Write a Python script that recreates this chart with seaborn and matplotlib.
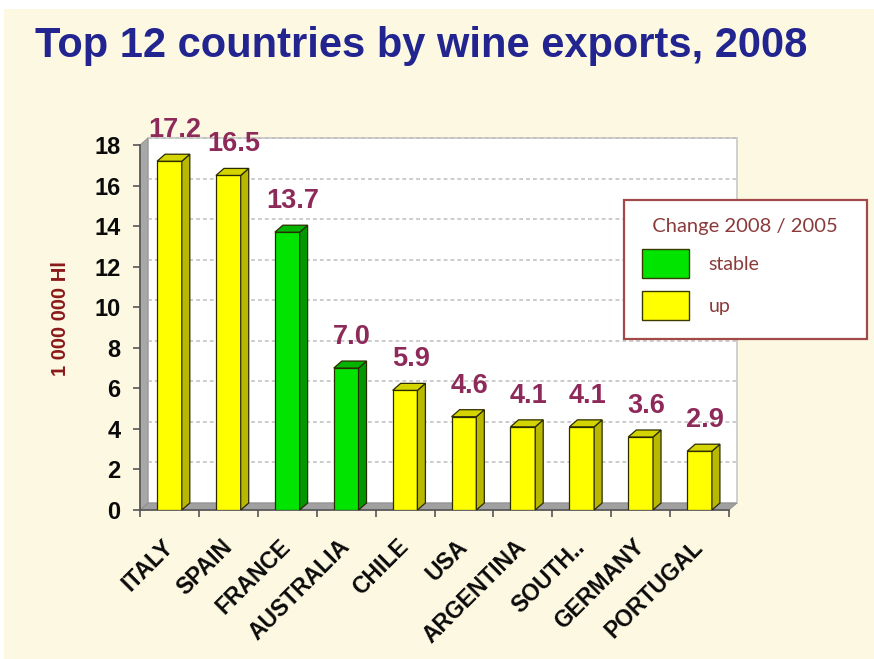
import matplotlib
matplotlib.use("Agg")
import matplotlib.pyplot as plt
import seaborn as sns
import pandas as pd
from matplotlib.patches import Polygon, Rectangle, Patch

# ---- data ----
countries = ["ITALY", "SPAIN", "FRANCE", "AUSTRALIA", "CHILE", "USA",
             "ARGENTINA", "SOUTH..", "GERMANY", "PORTUGAL"]
exports = [17.2, 16.5, 13.7, 7.0, 5.9, 4.6, 4.1, 4.1, 3.6, 2.9]
change = ["up", "up", "stable", "stable", "up", "up", "up", "up", "up", "up"]
y_ticks = [0, 2, 4, 6, 8, 10, 12, 14, 16, 18]
legend_order = ["stable", "up"]

title = "Top 12 countries by wine exports, 2008"
ylabel = "1 000 000 Hl"
legend_title = "Change 2008 / 2005"

front = {"up": "#FFFF00", "stable": "#00E400"}
side = {"up": "#B8B800", "stable": "#009800"}
top_c = {"up": "#D4D400", "stable": "#00B400"}

bg = "#FDF8E2"
label_col = "#8E2A5A"

df = pd.DataFrame({"country": countries, "value": exports, "change": change})

sns.set_theme(style="white")
plt.rcParams["font.family"] = ["Liberation Sans", "DejaVu Sans"]

W, H = 874, 659
fig = plt.figure(figsize=(W / 100, H / 100), dpi=100, facecolor=bg)
ax_l, ax_r, ax_b, ax_t = 140, 729, 510, 145
ax = fig.add_axes([ax_l / W, 1 - ax_b / H, (ax_r - ax_l) / W, (ax_b - ax_t) / H])
ax.set_facecolor("none")

# white strips at top/left edge of the picture
fig.patches.append(Rectangle((0, 1 - 9 / H), 1, 9 / H, transform=fig.transFigure,
                             facecolor="white", edgecolor="none", zorder=-5))
fig.patches.append(Rectangle((0, 0), 4 / W, 1, transform=fig.transFigure,
                             facecolor="white", edgecolor="none", zorder=-5))

sns.barplot(data=df, x="country", y="value", hue="change", palette=front,
            order=countries, hue_order=legend_order, dodge=False, width=0.42,
            saturation=1, edgecolor="#2B2B00", linewidth=0.9, legend=False, ax=ax,
            zorder=3)

ax.set_xlim(-0.5, len(countries) - 0.5)
ax.set_ylim(0, 18)

# 3D look: wall, floor, back plane offsets
px_x = (ax_r - ax_l) / len(countries)   # px per category
px_y = (ax_b - ax_t) / 18.0             # px per unit
ddx_px, ddy_px = 8, 7
dxa = ddx_px / (ax_r - ax_l)
dya = ddy_px / (ax_b - ax_t)

ax.add_patch(Rectangle((dxa, dya), 1, 1, transform=ax.transAxes, facecolor="white",
                       edgecolor="#C8C8C8", linewidth=1.2, zorder=0, clip_on=False))
ax.add_patch(Polygon([(0, 0), (dxa, dya), (dxa, 1 + dya), (0, 1)], closed=True,
                     transform=ax.transAxes, facecolor="#A8A8A8", edgecolor="#8C8C8C",
                     linewidth=0.6, zorder=0.5, clip_on=False))
ax.add_patch(Polygon([(0, 0), (1, 0), (1 + dxa, dya), (dxa, dya)], closed=True,
                     transform=ax.transAxes, facecolor="#A0A0A0", edgecolor="#8C8C8C",
                     linewidth=0.6, zorder=0.5, clip_on=False))
for t in y_ticks[1:]:
    ya = t / 18.0 + dya
    ax.plot([dxa, 1 + dxa], [ya, ya], transform=ax.transAxes, color="#BEBEBE",
            linestyle=(0, (2.5, 2)), linewidth=1.1, zorder=0.8, clip_on=False)

ddx = ddx_px / px_x
ddy = ddy_px / px_y
bars = [p for p in ax.patches if isinstance(p, Rectangle) and p.get_height() > 0
        and p.get_width() < 1]
for p in bars:
    x0, w, h = p.get_x(), p.get_width(), p.get_height()
    fc = p.get_facecolor()
    key = "up" if fc[0] > 0.5 else "stable"
    ax.add_patch(Polygon([(x0 + w, 0), (x0 + w + ddx, ddy), (x0 + w + ddx, h + ddy),
                          (x0 + w, h)], closed=True, facecolor=side[key],
                         edgecolor="#2B2B00", linewidth=0.9, zorder=3, clip_on=False))
    ax.add_patch(Polygon([(x0, h), (x0 + w, h), (x0 + w + ddx, h + ddy), (x0 + ddx, h + ddy)],
                         closed=True, facecolor=top_c[key], edgecolor="#2B2B00",
                         linewidth=0.9, zorder=3, clip_on=False))

for c in ax.containers:
    lbls = ax.bar_label(c, fmt="%.1f", padding=13, color=label_col, fontsize=19.5,
                        fontweight="bold")
    for l in lbls:
        l.set_clip_on(False)
        l.xyann = (4, l.xyann[1])

# axes styling
for s in ["top", "right"]:
    ax.spines[s].set_visible(False)
for s in ["left", "bottom"]:
    ax.spines[s].set_color("#555555")
    ax.spines[s].set_linewidth(1.2)
    ax.spines[s].set_zorder(1)

ax.set_yticks(y_ticks)
ax.set_yticklabels([str(t) for t in y_ticks], fontsize=17, fontweight="bold", color="#0A0A0A")
ax.tick_params(axis="y", left=True, length=5, width=1.2, color="#555555", pad=9)

ax.set_xticks(range(len(countries)))
ax.set_xticks([i - 0.5 for i in range(len(countries) + 1)], minor=True)
ax.tick_params(axis="x", which="major", bottom=False, length=0, pad=24)
ax.tick_params(axis="x", which="minor", bottom=True, length=5, width=1.2, color="#555555")
ax.set_xticklabels(countries, rotation=45, ha="right", va="center",
                   rotation_mode="anchor", fontsize=16.5, fontweight="bold", color="#0A0A0A")
ax.set_xlabel("")
ax.set_ylabel(ylabel, fontsize=14.5, fontweight="bold", color="#8B1A1A")
ax.yaxis.set_label_coords(-(ax_l - 70) / (ax_r - ax_l), 0.525)

fig.text(35 / W, 1 - 46 / H, title, ha="left", va="center", fontsize=30,
         fontweight="bold", color="#22258F")

handles = [Patch(facecolor=front[k], edgecolor="#3A3A00", linewidth=1.0) for k in legend_order]
leg = fig.legend(handles, legend_order, title="  " + legend_title + "  ",
                 loc="upper left", alignment="left",
                 bbox_to_anchor=(624 / W, 1 - 200 / H), borderaxespad=0,
                 frameon=True, fancybox=False,
                 shadow=False, framealpha=1, facecolor="white", edgecolor="#A24A4A",
                 prop={"family": ["Lato", "DejaVu Sans"], "size": 14},
                 title_fontproperties={"family": ["Lato", "DejaVu Sans"], "size": 14.5},
                 handlelength=2.4, handleheight=1.9, handletextpad=1.0,
                 labelspacing=0.7, borderpad=0.95)
leg.get_frame().set_linewidth(1.6)
leg.get_title().set_color("#8B3A3A")
for t in leg.get_texts():
    t.set_color("#8B3A3A")

fig.savefig("out.png", dpi=100, facecolor=bg)
